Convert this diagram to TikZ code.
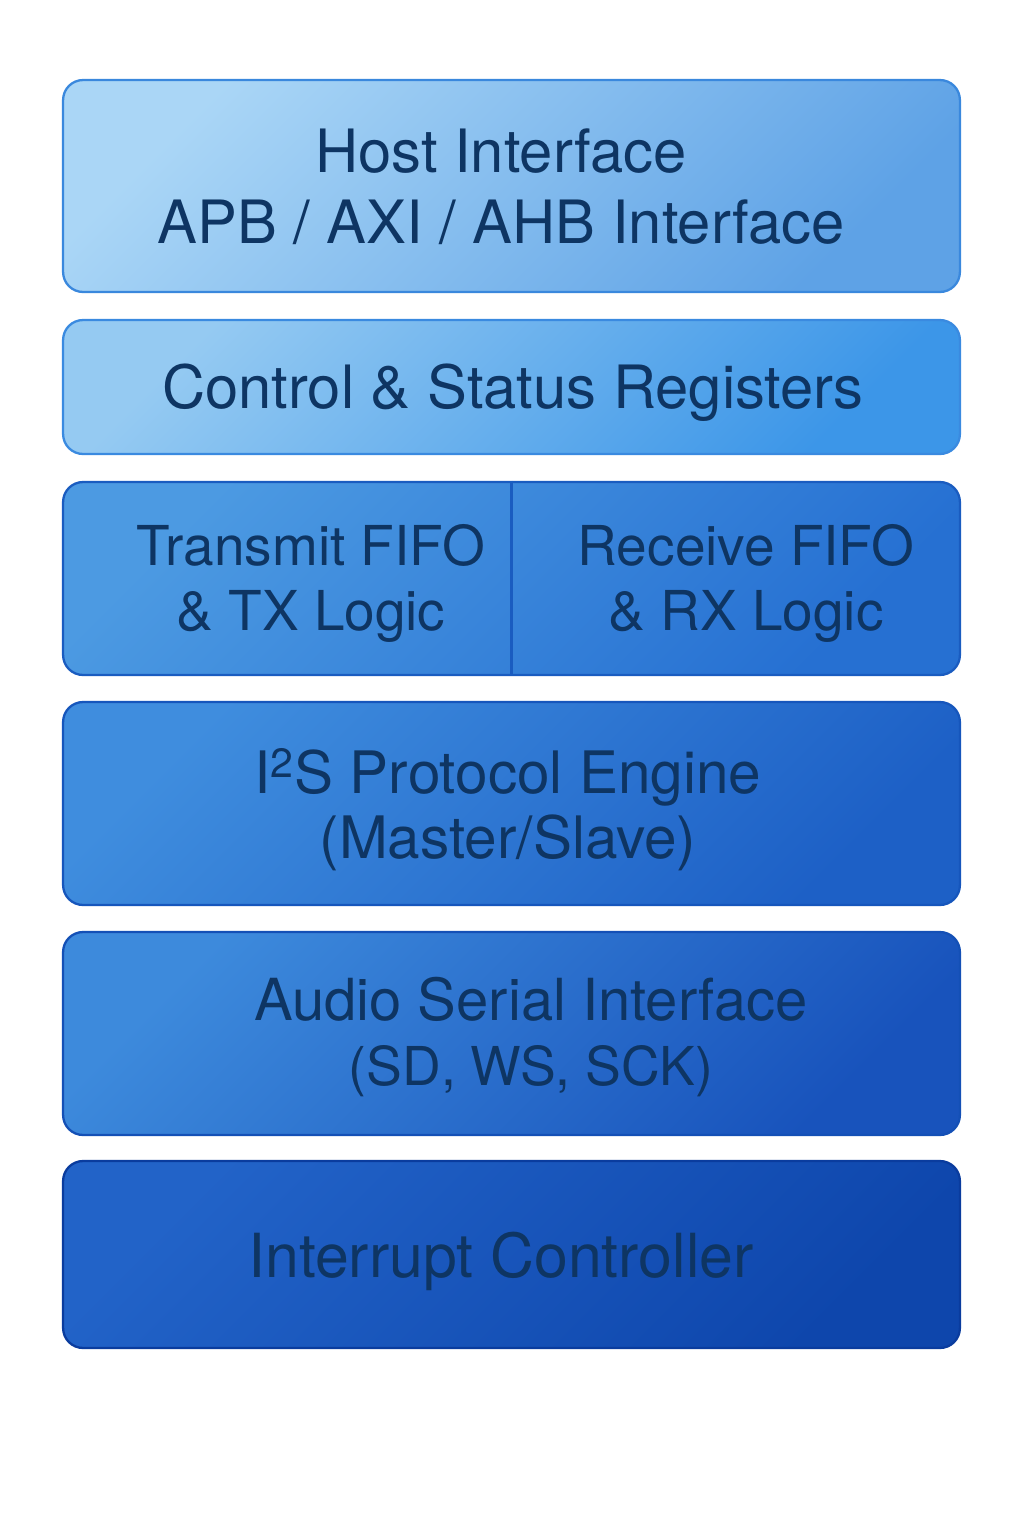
\documentclass[tikz,border=0pt]{standalone}
\usepackage{fontspec}
\setmainfont{TeX Gyre Heros}
\usepackage{tikz}

\definecolor{inktext}{HTML}{0E3563}
\definecolor{hostA}{HTML}{AAD6F6}
\definecolor{hostB}{HTML}{5EA2E6}
\definecolor{hostD}{HTML}{3A88DD}
\definecolor{csrA}{HTML}{95CAF2}
\definecolor{csrB}{HTML}{3C96E8}
\definecolor{csrD}{HTML}{3A8AE0}
\definecolor{fifoA}{HTML}{4C9AE2}
\definecolor{fifoB}{HTML}{2670D2}
\definecolor{fifoD}{HTML}{1A5CC0}
\definecolor{engineA}{HTML}{3F8DDE}
\definecolor{engineB}{HTML}{1D60C6}
\definecolor{engineD}{HTML}{1656BC}
\definecolor{serialA}{HTML}{3D8ADC}
\definecolor{serialB}{HTML}{1853BC}
\definecolor{serialD}{HTML}{1450B6}
\definecolor{irqA}{HTML}{2263C8}
\definecolor{irqB}{HTML}{0E46AC}
\definecolor{irqD}{HTML}{0A3C9E}

\begin{document}
\begin{tikzpicture}[x=0.02cm,y=-0.02cm,thick,
    layer/.style={
            draw=#1D, line width=1.3pt, rounded corners=0.4cm,
            minimum width=17.94cm, inner sep=0pt,
            left color=#1A, right color=#1B, shading angle=45
        },
    caption/.style={
            text=inktext, align=center, inner sep=0pt,
            font=\fontsize{34}{37}\selectfont
        }]
    \useasboundingbox[fill=white] (0,0) rectangle (1024,1536);
    % the stacked layers
    \node[layer=host,minimum height=4.24cm] (host) at (511.5,186) {};
    \node[layer=csr,minimum height=2.68cm] (csr) at (511.5,387) {};
    \node[layer=fifo,minimum height=3.86cm] (fifo) at (511.5,578.5) {};
    \node[layer=engine,minimum height=4.06cm] (engine) at (511.5,803.5) {};
    \node[layer=serial,minimum height=4.06cm] (serial) at (511.5,1033.5) {};
    \node[layer=irq,minimum height=3.74cm] (irq) at (511.5,1254.5) {};
    \draw[fifoD,line width=1.3pt] (fifo.north) -- (fifo.south);
    % labels
    \node[caption,font=\fontsize{34}{40.4}\selectfont] (hostText) at (501,187) {Host Interface\\APB / AXI / AHB Interface};
    \node[caption] (csrText) at (513,393) {Control \& Status Registers};
    \node[caption,font=\fontsize{31.3}{37}\selectfont] (txText) at (311,583) {Transmit FIFO\\\& TX Logic};
    \node[caption,font=\fontsize{31.3}{37}\selectfont] (rxText) at (746,583) {Receive FIFO\\\& RX Logic};
    \node[caption,font=\fontsize{33.3}{37}\selectfont] (engineText) at (508,810) {I\textsuperscript{2}S Protocol Engine\\(Master/Slave)};
    \node[caption,font=\fontsize{33}{37}\selectfont] (serialText) at (531,1037) {Audio Serial Interface\\\fontsize{30.5}{37}\selectfont (SD, WS, SCK)};
    \node[caption,font=\fontsize{34.6}{37}\selectfont] (irqText) at (501,1261) {Interrupt Controller};
\end{tikzpicture}
\end{document}
